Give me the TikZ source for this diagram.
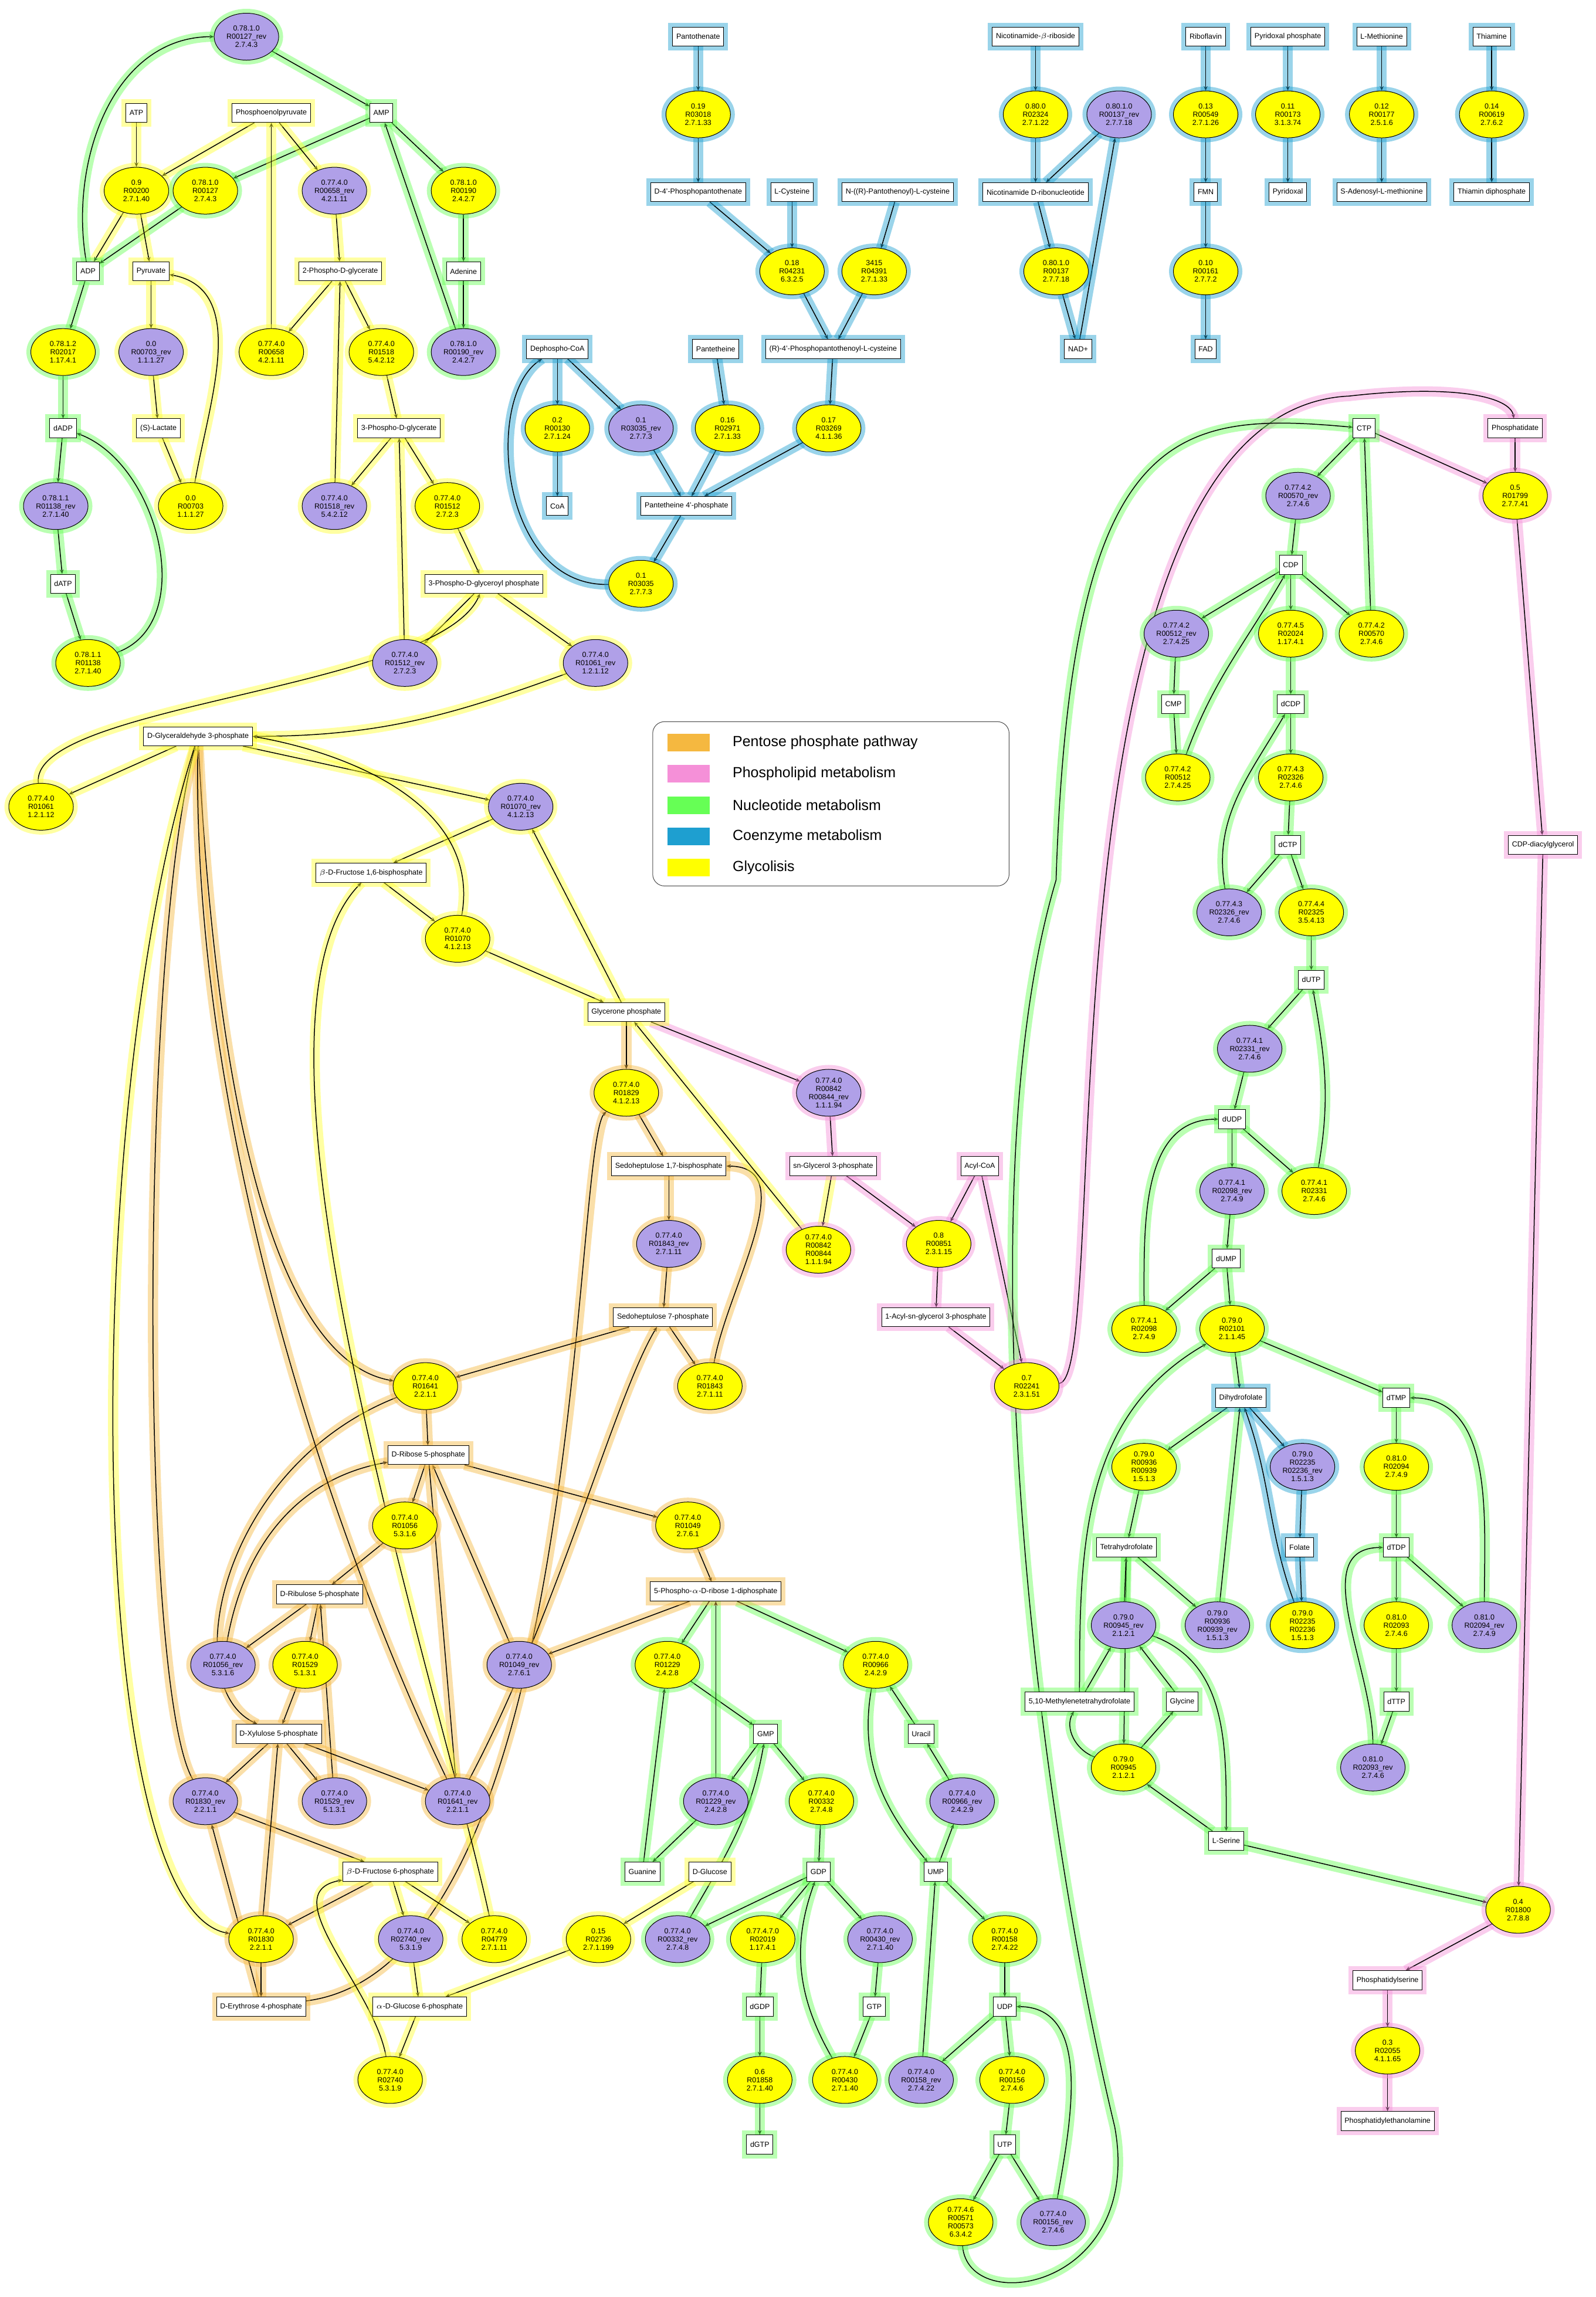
\documentclass[tikz,border=0pt]{standalone}
\usepackage{fontspec}
\setmainfont{Liberation Sans}
\usetikzlibrary{shapes.geometric,arrows.meta}
\pgfdeclarelayer{bg}\pgfsetlayers{bg,main}
\definecolor{cY}{HTML}{FFFF30}\definecolor{cG}{HTML}{66FF55}\definecolor{cB}{HTML}{1E9FD0}
\definecolor{cO}{HTML}{F5B840}\definecolor{cP}{HTML}{F590D8}\definecolor{fY}{HTML}{FFFF00}\definecolor{fP}{HTML}{B0A0E8}
\tikzset{
 gl/.style={preaction={draw=#1,line width=6pt,opacity=.45}},
 ye/.style={ellipse,draw,fill=fY,minimum width=44pt,minimum height=32pt,inner sep=0pt,align=center,font=\fontsize{5}{5.6}\selectfont},
 pu/.style={ye,fill=fP},
 bx/.style={rectangle,draw,fill=white,minimum height=13pt,inner sep=2.5pt,font=\fontsize{5}{6}\selectfont},
 L/.style={->,>={Stealth[length=3pt,width=2.5pt]},black,line width=0.6pt,preaction={draw=#1,line width=7pt,opacity=.45,arrows=-}}
}
\newcommand\YY[4]{\node[ye,gl=#2] (#1) at (#3) {#4};}
\newcommand\PP[4]{\node[pu,gl=#2] (#1) at (#3) {#4};}
\newcommand\BB[4]{\node[bx,gl=#2] (#1) at (#3) {#4};}
\newcommand\ee[3]{\draw[L=#1] (#2) -- (#3);}
\begin{document}
\begin{tikzpicture}[x=1pt,y=-1pt]
\useasboundingbox (0,0) rectangle (1088,1566);
% ---- top left
\PP{r127r}{cG}{168,25}{0.78.1.0\\R00127\_rev\\2.7.4.3}
\BB{ATP}{cY}{93,77}{ATP}\BB{PEP}{cY}{185,77}{Phosphoenolpyruvate}\BB{AMP}{cG}{260,77}{AMP}
\YY{r200}{cY}{93,130}{0.9\\R00200\\2.7.1.40}\YY{r127}{cG}{140,130}{0.78.1.0\\R00127\\2.7.4.3}
\PP{r658r}{cY}{228,130}{0.77.4.0\\R00658\_rev\\4.2.1.11}\YY{r190}{cG}{316,130}{0.78.1.0\\R00190\\2.4.2.7}
\BB{ADP}{cG}{60,185}{ADP}\BB{Pyr}{cY}{103,185}{Pyruvate}\BB{PG2}{cY}{232,185}{2-Phospho-D-glycerate}\BB{Ade}{cG}{316,185}{Adenine}
\YY{r2017}{cG}{43,240}{0.78.1.2\\R02017\\1.17.4.1}\PP{r703r}{cY}{103,240}{0.0\\R00703\_rev\\1.1.1.27}
\YY{r658}{cY}{185,240}{0.77.4.0\\R00658\\4.2.1.11}\YY{r1518}{cY}{260,240}{0.77.4.0\\R01518\\5.4.2.12}
\PP{r190r}{cG}{316,240}{0.78.1.0\\R00190\_rev\\2.4.2.7}
\BB{dADP}{cG}{43,292}{dADP}\BB{Lac}{cY}{108,292}{(S)-Lactate}\BB{PG3}{cY}{272,292}{3-Phospho-D-glycerate}
\PP{r1138r}{cG}{38,345}{0.78.1.1\\R01138\_rev\\2.7.1.40}\YY{r703}{cY}{130,345}{0.0\\R00703\\1.1.1.27}
\PP{r1518r}{cY}{228,345}{0.77.4.0\\R01518\_rev\\5.4.2.12}\YY{r1512}{cY}{305,345}{0.77.4.0\\R01512\\2.7.2.3}
\BB{dATP}{cG}{43,398}{dATP}\BB{PGP}{cY}{330,398}{3-Phospho-D-glyceroyl phosphate}
\YY{r1138}{cG}{60,452}{0.78.1.1\\R01138\\2.7.1.40}\PP{r1512r}{cY}{276,452}{0.77.4.0\\R01512\_rev\\2.7.2.3}
\PP{r1061r}{cY}{406,452}{0.77.4.0\\R01061\_rev\\1.2.1.12}
% ---- coenzyme
\BB{Pan}{cB}{476,25}{Pantothenate}\BB{NR}{cB}{706,25}{Nicotinamide-$\beta$-riboside}\BB{Rib}{cB}{822,25}{Riboflavin}
\BB{PLP}{cB}{878,25}{Pyridoxal phosphate}\BB{Met}{cB}{942,25}{L-Methionine}\BB{Thi}{cB}{1017,25}{Thiamine}
\YY{r3018}{cB}{476,78}{0.19\\R03018\\2.7.1.33}\YY{r2324}{cB}{706,78}{0.80.0\\R02324\\2.7.1.22}
\PP{r137r}{cB}{763,78}{0.80.1.0\\R00137\_rev\\2.7.7.18}\YY{r549}{cB}{822,78}{0.13\\R00549\\2.7.1.26}
\YY{r173}{cB}{878,78}{0.11\\R00173\\3.1.3.74}\YY{r177}{cB}{942,78}{0.12\\R00177\\2.5.1.6}\YY{r619}{cB}{1017,78}{0.14\\R00619\\2.7.6.2}
\BB{DPP}{cB}{476,131}{D-4'-Phosphopantothenate}\BB{Cys}{cB}{540,131}{L-Cysteine}\BB{NPC}{cB}{612,131}{N-((R)-Pantothenoyl)-L-cysteine}
\BB{NMN}{cB}{706,131}{Nicotinamide D-ribonucleotide}\BB{FMN}{cB}{822,131}{FMN}\BB{Pdx}{cB}{878,131}{Pyridoxal}
\BB{SAM}{cB}{942,131}{S-Adenosyl-L-methionine}\BB{TDP}{cB}{1017,131}{Thiamin diphosphate}
\YY{r4231}{cB}{540,185}{0.18\\R04231\\6.3.2.5}\YY{r4391}{cB}{596,185}{3415\\R04391\\2.7.1.33}
\YY{r137}{cB}{720,185}{0.80.1.0\\R00137\\2.7.7.18}\YY{r161}{cB}{822,185}{0.10\\R00161\\2.7.7.2}
\BB{DCoA}{cB}{380,238}{Dephospho-CoA}\BB{Pnt}{cB}{488,238}{Pantetheine}\BB{RPPC}{cB}{568,238}{(R)-4'-Phosphopantothenoyl-L-cysteine}
\BB{NAD}{cB}{735,238}{NAD+}\BB{FAD}{cB}{822,238}{FAD}
\YY{r130}{cB}{380,292}{0.2\\R00130\\2.7.1.24}\PP{r3035r}{cB}{437,292}{0.1\\R03035\_rev\\2.7.7.3}
\YY{r2971}{cB}{496,292}{0.16\\R02971\\2.7.1.33}\YY{r3269}{cB}{565,292}{0.17\\R03269\\4.1.1.36}
\BB{CoA}{cB}{380,345}{CoA}\BB{P4P}{cB}{468,345}{Pantetheine 4'-phosphate}
\YY{r3035}{cB}{437,398}{0.1\\R03035\\2.7.7.3}
% ---- middle
\BB{GAP}{cY}{135,502}{D-Glyceraldehyde 3-phosphate}\YY{r1061}{cY}{28,550}{0.77.4.0\\R01061\\1.2.1.12}
\PP{r1070r}{cY}{355,550}{0.77.4.0\\R01070\_rev\\4.1.2.13}\BB{FBP}{cY}{253,595}{$\beta$-D-Fructose 1,6-bisphosphate}
\YY{r1070}{cY}{312,640}{0.77.4.0\\R01070\\4.1.2.13}\BB{DHAP}{cY}{427,690}{Glycerone phosphate}
\YY{r1829}{cO}{427,745}{0.77.4.0\\R01829\\4.1.2.13}\PP{r842r}{cP}{565,745}{0.77.4.0\\R00842\\R00844\_rev\\1.1.1.94}
\BB{S17}{cO}{456,795}{Sedoheptulose 1,7-bisphosphate}\BB{G3P}{cP}{568,795}{sn-Glycerol 3-phosphate}\BB{Acyl}{cP}{668,795}{Acyl-CoA}
\PP{r1843r}{cO}{456,848}{0.77.4.0\\R01843\_rev\\2.7.1.11}\YY{r842}{cP}{558,852}{0.77.4.0\\R00842\\R00844\\1.1.1.94}
\YY{r851}{cP}{640,848}{0.8\\R00851\\2.3.1.15}
\BB{S7P}{cO}{452,898}{Sedoheptulose 7-phosphate}\BB{Acyl1}{cP}{638,898}{1-Acyl-sn-glycerol 3-phosphate}
\YY{r1641}{cO}{290,945}{0.77.4.0\\R01641\\2.2.1.1}\YY{r1843}{cO}{484,945}{0.77.4.0\\R01843\\2.7.1.11}
\YY{r2241}{cP}{700,945}{0.7\\R02241\\2.3.1.51}
\BB{R5P}{cO}{292,992}{D-Ribose 5-phosphate}
\YY{r1056}{cO}{276,1040}{0.77.4.0\\R01056\\5.3.1.6}\YY{r1049}{cO}{469,1040}{0.77.4.0\\R01049\\2.7.6.1}
\BB{Ru5P}{cO}{218,1087}{D-Ribulose 5-phosphate}\BB{PRPP}{cO}{488,1085}{5-Phospho-$\alpha$-D-ribose 1-diphosphate}
\PP{r1056r}{cO}{152,1135}{0.77.4.0\\R01056\_rev\\5.3.1.6}\YY{r1529}{cO}{208,1135}{0.77.4.0\\R01529\\5.1.3.1}
\PP{r1049r}{cO}{354,1135}{0.77.4.0\\R01049\_rev\\2.7.6.1}
\BB{Xu5P}{cO}{190,1182}{D-Xylulose 5-phosphate}
\PP{r1830r}{cO}{140,1228}{0.77.4.0\\R01830\_rev\\2.2.1.1}\PP{r1529r}{cO}{228,1228}{0.77.4.0\\R01529\_rev\\5.1.3.1}
\PP{r1641r}{cO}{312,1228}{0.77.4.0\\R01641\_rev\\2.2.1.1}
\BB{F6P}{cY}{266,1276}{$\beta$-D-Fructose 6-phosphate}
\YY{r1830}{cO}{178,1322}{0.77.4.0\\R01830\\2.2.1.1}\PP{r2740r}{cY}{280,1322}{0.77.4.0\\R02740\_rev\\5.3.1.9}
\YY{r4779}{cY}{337,1322}{0.77.4.0\\R04779\\2.7.1.11}\YY{r2736}{cY}{408,1322}{0.15\\R02736\\2.7.1.199}
\BB{E4P}{cO}{178,1368}{D-Erythrose 4-phosphate}\BB{G6P}{cY}{286,1368}{$\alpha$-D-Glucose 6-phosphate}
\YY{r2740}{cY}{266,1418}{0.77.4.0\\R02740\\5.3.1.9}\BB{Glc}{cY}{484,1276}{D-Glucose}
% ---- lower nucleotides
\YY{r1229}{cG}{455,1135}{0.77.4.0\\R01229\\2.4.2.8}\YY{r966}{cG}{597,1135}{0.77.4.0\\R00966\\2.4.2.9}
\BB{GMP}{cG}{522,1182}{GMP}\BB{Ura}{cG}{628,1182}{Uracil}
\PP{r1229r}{cG}{488,1228}{0.77.4.0\\R01229\_rev\\2.4.2.8}\YY{r332}{cG}{560,1228}{0.77.4.0\\R00332\\2.7.4.8}
\PP{r966r}{cG}{656,1228}{0.77.4.0\\R00966\_rev\\2.4.2.9}
\BB{Gua}{cG}{438,1276}{Guanine}\BB{GDP}{cG}{558,1276}{GDP}\BB{UMP}{cG}{638,1276}{UMP}
\PP{r332r}{cG}{462,1322}{0.77.4.0\\R00332\_rev\\2.7.4.8}\YY{r2019}{cG}{520,1322}{0.77.4.7.0\\R02019\\1.17.4.1}
\PP{r430r}{cG}{600,1322}{0.77.4.0\\R00430\_rev\\2.7.1.40}\YY{r158}{cG}{685,1322}{0.77.4.0\\R00158\\2.7.4.22}
\BB{dGDP}{cG}{518,1368}{dGDP}\BB{GTP}{cG}{596,1368}{GTP}\BB{UDP}{cG}{685,1368}{UDP}
\YY{r1858}{cG}{518,1418}{0.6\\R01858\\2.7.1.40}\YY{r430}{cG}{576,1418}{0.77.4.0\\R00430\\2.7.1.40}
\PP{r158r}{cG}{628,1418}{0.77.4.0\\R00158\_rev\\2.7.4.22}\YY{r156}{cG}{690,1418}{0.77.4.0\\R00156\\2.7.4.6}
\BB{dGTP}{cG}{518,1462}{dGTP}\BB{UTP}{cG}{685,1462}{UTP}
\YY{r571}{cG}{655,1515}{0.77.4.6\\R00571\\R00573\\6.3.4.2}\PP{r156r}{cG}{718,1515}{0.77.4.0\\R00156\_rev\\2.7.4.6}
% ---- right
\BB{CTP}{cG}{930,292}{CTP}\BB{Pht}{cP}{1033,292}{Phosphatidate}
\PP{r570r}{cG}{885,338}{0.77.4.2\\R00570\_rev\\2.7.4.6}\YY{r1799}{cP}{1033,338}{0.5\\R01799\\2.7.7.41}
\BB{CDP}{cG}{880,385}{CDP}
\PP{r512r}{cG}{802,432}{0.77.4.2\\R00512\_rev\\2.7.4.25}\YY{r2024}{cG}{880,432}{0.77.4.5\\R02024\\1.17.4.1}
\YY{r570}{cG}{935,432}{0.77.4.2\\R00570\\2.7.4.6}
\BB{CMP}{cG}{800,480}{CMP}\BB{dCDP}{cG}{880,480}{dCDP}
\YY{r512}{cG}{803,530}{0.77.4.2\\R00512\\2.7.4.25}\YY{r2326}{cG}{880,530}{0.77.4.3\\R02326\\2.7.4.6}
\BB{dCTP}{cG}{878,576}{dCTP}\BB{CDG}{cP}{1052,576}{CDP-diacylglycerol}
\PP{r2326r}{cG}{838,622}{0.77.4.3\\R02326\_rev\\2.7.4.6}\YY{r2325}{cG}{894,622}{0.77.4.4\\R02325\\3.5.4.13}
\BB{dUTP}{cG}{894,668}{dUTP}\PP{r2331r}{cG}{852,715}{0.77.4.1\\R02331\_rev\\2.7.4.6}
\BB{dUDP}{cG}{840,763}{dUDP}
\PP{r2098r}{cG}{840,812}{0.77.4.1\\R02098\_rev\\2.7.4.9}\YY{r2331}{cG}{896,812}{0.77.4.1\\R02331\\2.7.4.6}
\BB{dUMP}{cG}{836,858}{dUMP}
\YY{r2098}{cG}{780,906}{0.77.4.1\\R02098\\2.7.4.9}\YY{r2101}{cG}{840,906}{0.79.0\\R02101\\2.1.1.45}
\BB{DHF}{cB}{846,953}{Dihydrofolate}\BB{dTMP}{cG}{952,953}{dTMP}
\YY{r936}{cG}{780,1000}{0.79.0\\R00936\\R00939\\1.5.1.3}\PP{r2235r}{cB}{888,1000}{0.79.0\\R02235\\R02236\_rev\\1.5.1.3}
\YY{r2094}{cG}{952,1000}{0.81.0\\R02094\\2.7.4.9}
\BB{THF}{cG}{768,1055}{Tetrahydrofolate}\BB{Fol}{cB}{886,1055}{Folate}\BB{dTDP}{cG}{952,1055}{dTDP}
\PP{r945r}{cG}{766,1108}{0.79.0\\R00945\_rev\\2.1.2.1}\PP{r936r}{cG}{830,1108}{0.79.0\\R00936\\R00939\_rev\\1.5.1.3}
\YY{r2235}{cB}{888,1108}{0.79.0\\R02235\\R02236\\1.5.1.3}\YY{r2093}{cG}{952,1108}{0.81.0\\R02093\\2.7.4.6}
\PP{r2094r}{cG}{1012,1108}{0.81.0\\R02094\_rev\\2.7.4.9}
\BB{MTHF}{cG}{736,1160}{5,10-Methylenetetrahydrofolate}\BB{Gly}{cG}{806,1160}{Glycine}\BB{dTTP}{cG}{952,1160}{dTTP}
\YY{r945}{cG}{766,1205}{0.79.0\\R00945\\2.1.2.1}\PP{r2093r}{cG}{936,1205}{0.81.0\\R02093\_rev\\2.7.4.6}
\BB{Ser}{cG}{836,1255}{L-Serine}\YY{r1800}{cP}{1035,1302}{0.4\\R01800\\2.7.8.8}
\BB{PS}{cP}{946,1350}{Phosphatidylserine}\YY{r2055}{cP}{946,1398}{0.3\\R02055\\4.1.1.65}
\BB{PE}{cP}{946,1446}{Phosphatidylethanolamine}
% ---- legend
\draw[rounded corners=8pt,fill=white,draw=black!70] (445,492) rectangle (688,604);
\foreach \c/\t [count=\i] in {cO/Pentose phosphate pathway,cP/Phospholipid metabolism,cG/Nucleotide metabolism,cB/Coenzyme metabolism,fY/Glycolisis}{
 \fill[\c] (455,{485+21.3*\i-6}) rectangle (484,{485+21.3*\i+6});
 \node[anchor=west,font=\fontsize{10}{12}\selectfont] (lg\i) at (496,{485+21.3*\i}) {\t};}
% ---- edges
\begin{pgfonlayer}{bg}
\draw[L=cG] (ADP) to[out=100,in=180] (r127r);\ee{cG}{r127r}{AMP}\ee{cG}{AMP}{r127}\ee{cG}{r127}{ADP}
\ee{cY}{ATP}{r200}\ee{cY}{r200}{ADP}\ee{cY}{PEP}{r200}\ee{cY}{r200}{Pyr}
\ee{cG}{AMP}{r190}\ee{cG}{r190}{Ade}\ee{cG}{Ade}{r190r}\ee{cG}{r190r}{AMP}
\ee{cG}{ADP}{r2017}\ee{cG}{r2017}{dADP}\ee{cG}{dADP}{r1138r}\ee{cG}{r1138r}{dATP}\ee{cG}{dATP}{r1138}
\draw[L=cG] (r1138) to[out=20,in=-20] (dADP);
\ee{cY}{Pyr}{r703r}\ee{cY}{r703r}{Lac}\ee{cY}{Lac}{r703}\draw[L=cY] (r703) to[out=80,in=-10] (Pyr);
\ee{cY}{PEP}{r658r}\ee{cY}{r658r}{PG2}\ee{cY}{PG2}{r658}\ee{cY}{r658}{PEP}
\ee{cY}{PG2}{r1518}\ee{cY}{r1518}{PG3}\ee{cY}{PG3}{r1518r}\ee{cY}{r1518r}{PG2}
\ee{cY}{PG3}{r1512}\ee{cY}{r1512}{PGP}\ee{cY}{PGP}{r1512r}\ee{cY}{r1512r}{PG3}
\ee{cY}{PGP}{r1061r}\draw[L=cY] (r1061r) to[out=200,in=0] (GAP);
\ee{cY}{GAP}{r1061}\draw[L=cY] (r1061) .. controls (20,480) and (300,470) .. (PGP);
% coenzyme
\ee{cB}{Pan}{r3018}\ee{cB}{r3018}{DPP}\ee{cB}{DPP}{r4231}\ee{cB}{Cys}{r4231}\ee{cB}{r4231}{RPPC}
\ee{cB}{NPC}{r4391}\ee{cB}{r4391}{RPPC}\ee{cB}{RPPC}{r3269}\ee{cB}{r3269}{P4P}
\ee{cB}{Pnt}{r2971}\ee{cB}{r2971}{P4P}\ee{cB}{P4P}{r3035}
\draw[L=cB] (r3035) .. controls (340,400) and (330,270) .. (DCoA);
\ee{cB}{DCoA}{r3035r}\ee{cB}{r3035r}{P4P}\ee{cB}{DCoA}{r130}\ee{cB}{r130}{CoA}
\ee{cB}{NR}{r2324}\ee{cB}{r2324}{NMN}\ee{cB}{NMN}{r137}\ee{cB}{r137}{NAD}\ee{cB}{NAD}{r137r}\ee{cB}{r137r}{NMN}
\ee{cB}{Rib}{r549}\ee{cB}{r549}{FMN}\ee{cB}{FMN}{r161}\ee{cB}{r161}{FAD}
\ee{cB}{PLP}{r173}\ee{cB}{r173}{Pdx}\ee{cB}{Met}{r177}\ee{cB}{r177}{SAM}\ee{cB}{Thi}{r619}\ee{cB}{r619}{TDP}
% glycolysis middle
\ee{cY}{GAP}{r1070r}\ee{cY}{DHAP}{r1070r}\ee{cY}{r1070r}{FBP}\ee{cY}{FBP}{r1070}
\draw[L=cY] (r1070) to[out=80,in=-10] (GAP.east);\ee{cY}{r1070}{DHAP}
\ee{cO}{DHAP}{r1829}\ee{cO}{r1829}{S17}\draw[L=cO] (E4P) .. controls (400,1340) and (390,780) .. (r1829);
\ee{cO}{S17}{r1843r}\ee{cO}{r1843r}{S7P}\ee{cO}{S7P}{r1843}\draw[L=cO] (r1843) to[out=80,in=0] (S17);
\ee{cP}{DHAP}{r842r}\ee{cP}{r842r}{G3P}\ee{cY}{G3P}{r842}\ee{cY}{r842}{DHAP}
\ee{cP}{G3P}{r851}\ee{cP}{Acyl}{r851}\ee{cP}{r851}{Acyl1}\ee{cP}{Acyl1}{r2241}\ee{cP}{Acyl}{r2241}
\draw[L=cP] (r2241) .. controls (760,940) and (700,280) .. (920,270) .. controls (990,262) and (1030,270) .. (Pht);
\draw[L=cO] (GAP) .. controls (150,800) and (200,930) .. (r1641);\ee{cO}{S7P}{r1641}\ee{cO}{r1641}{R5P}
\draw[L=cO] (r1641) .. controls (150,1000) and (120,1150) .. (Xu5P);
\ee{cO}{R5P}{r1056}\ee{cO}{r1056}{Ru5P}\ee{cO}{Ru5P}{r1056r}\draw[L=cO] (r1056r) to[out=80,in=190] (R5P);
\ee{cO}{R5P}{r1049}\ee{cO}{r1049}{PRPP}\ee{cO}{PRPP}{r1049r}\ee{cO}{r1049r}{R5P}
\ee{cO}{Ru5P}{r1529}\ee{cO}{r1529}{Xu5P}\ee{cO}{Xu5P}{r1529r}\ee{cO}{r1529r}{Ru5P}
\ee{cO}{Xu5P}{r1641r}\ee{cO}{R5P}{r1641r}\draw[L=cO] (r1641r) .. controls (380,1100) and (420,950) .. (S7P);
\draw[L=cO] (r1641r) .. controls (250,1100) and (130,800) .. (GAP);
\ee{cO}{Xu5P}{r1830r}\ee{cO}{E4P}{r1830r}\draw[L=cO] (r1830r) .. controls (95,1150) and (95,650) .. (GAP);
\ee{cO}{r1830r}{F6P}\ee{cO}{F6P}{r1830}\draw[L=cY] (GAP) .. controls (55,750) and (55,1300) .. (r1830);
\ee{cO}{r1830}{E4P}\ee{cO}{r1830}{Xu5P}
\ee{cY}{F6P}{r2740r}\ee{cY}{r2740r}{G6P}\ee{cY}{G6P}{r2740}\draw[L=cY] (r2740) to[out=100,in=190] (F6P);
\ee{cY}{F6P}{r4779}\draw[L=cY] (r4779) .. controls (300,1150) and (150,700) .. (FBP);
\ee{cY}{Glc}{r2736}\ee{cY}{r2736}{G6P}
% lower nucleotides
\ee{cG}{PRPP}{r1229}\ee{cG}{Gua}{r1229}\ee{cG}{r1229}{GMP}\ee{cG}{GMP}{r1229r}\ee{cG}{r1229r}{Gua}\ee{cG}{r1229r}{PRPP}
\ee{cG}{GMP}{r332}\ee{cG}{r332}{GDP}\ee{cG}{GDP}{r332r}\draw[L=cG] (r332r) to[out=60,in=-100] (GMP);
\ee{cG}{GDP}{r2019}\ee{cG}{r2019}{dGDP}\ee{cG}{dGDP}{r1858}\ee{cG}{r1858}{dGTP}
\ee{cG}{GDP}{r430r}\ee{cG}{r430r}{GTP}\ee{cG}{GTP}{r430}\draw[L=cG] (r430) to[out=120,in=-110] (GDP);
\ee{cG}{PRPP}{r966}\ee{cG}{Ura}{r966}\draw[L=cG] (r966) to[out=-100,in=130] (UMP);
\ee{cG}{UMP}{r966r}\ee{cG}{r966r}{Ura}
\ee{cG}{UMP}{r158}\ee{cG}{r158}{UDP}\ee{cG}{UDP}{r158r}\ee{cG}{r158r}{UMP}
\ee{cG}{UDP}{r156}\ee{cG}{r156}{UTP}\ee{cG}{UTP}{r156r}\draw[L=cG] (r156r) to[out=80,in=0] (UDP);
\ee{cG}{UTP}{r571}
\draw[L=cG] (r571) .. controls (660,1580) and (780,1560) .. (760,1450) .. controls (700,1200) and (660,800) .. (720,600) .. controls (730,290) and (800,280) .. (CTP);
% right
\ee{cG}{CTP}{r570r}\ee{cG}{r570r}{CDP}\ee{cG}{CDP}{r570}\ee{cG}{r570}{CTP}
\ee{cP}{Pht}{r1799}\ee{cP}{CTP}{r1799}\ee{cP}{r1799}{CDG}
\ee{cG}{CDP}{r512r}\ee{cG}{r512r}{CMP}\ee{cG}{CMP}{r512}\draw[L=cG] (r512) to[out=70,in=-120] (CDP);
\ee{cG}{CDP}{r2024}\ee{cG}{r2024}{dCDP}\ee{cG}{dCDP}{r2326}\ee{cG}{r2326}{dCTP}
\ee{cG}{dCTP}{r2326r}\draw[L=cG] (r2326r) to[out=100,in=-120] (dCDP);
\ee{cG}{dCTP}{r2325}\ee{cG}{r2325}{dUTP}\ee{cG}{dUTP}{r2331r}\ee{cG}{r2331r}{dUDP}
\ee{cG}{dUDP}{r2331}\draw[L=cG] (r2331) to[out=80,in=-80] (dUTP);
\ee{cG}{dUDP}{r2098r}\ee{cG}{r2098r}{dUMP}\ee{cG}{dUMP}{r2098}\draw[L=cG] (r2098) to[out=90,in=180] (dUDP);
\ee{cG}{dUMP}{r2101}\ee{cG}{r2101}{dTMP}\ee{cG}{r2101}{DHF}\draw[L=cG] (MTHF) to[out=90,in=-150] (r2101);
\ee{cG}{dTMP}{r2094}\ee{cG}{r2094}{dTDP}\ee{cG}{dTDP}{r2094r}\draw[L=cG] (r2094r) to[out=90,in=0] (dTMP);
\ee{cG}{dTDP}{r2093}\ee{cG}{r2093}{dTTP}\ee{cG}{dTTP}{r2093r}\draw[L=cG] (r2093r) to[out=90,in=180] (dTDP);
\ee{cG}{DHF}{r936}\ee{cG}{r936}{THF}\ee{cG}{THF}{r936r}\ee{cG}{r936r}{DHF}
\ee{cB}{DHF}{r2235r}\ee{cB}{r2235r}{Fol}\ee{cB}{Fol}{r2235}\draw[L=cB] (r2235) to[out=110,in=-70] (DHF);
\ee{cG}{THF}{r945}\ee{cG}{Ser}{r945}\ee{cG}{r945}{Gly}\draw[L=cG] (r945) to[out=160,in=-120] (MTHF);
\ee{cG}{MTHF}{r945r}\ee{cG}{Gly}{r945r}\ee{cG}{r945r}{THF}\draw[L=cG] (r945r) to[out=-20,in=90] (Ser);
\ee{cG}{Ser}{r1800}\ee{cP}{CDG}{r1800}\ee{cP}{r1800}{PS}\ee{cP}{PS}{r2055}\ee{cP}{r2055}{PE}
\end{pgfonlayer}
\end{tikzpicture}
\end{document}
